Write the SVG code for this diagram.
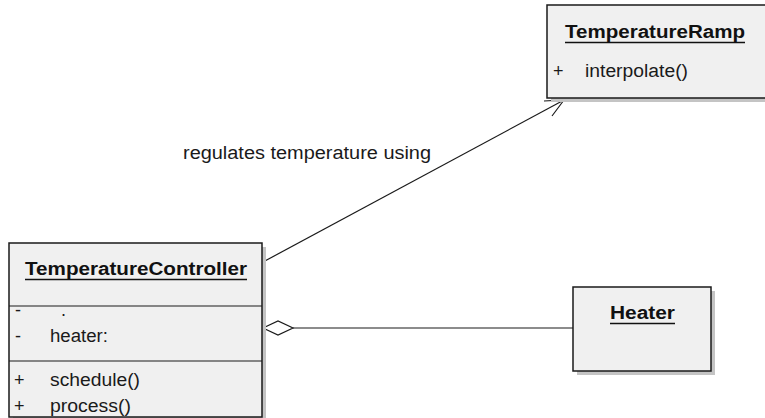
<svg xmlns="http://www.w3.org/2000/svg" width="765" height="418" viewBox="0 0 765 418">
<style>
.shadow{fill:#c4c4c4;stroke:none}
.box{fill:#f0f0f0;stroke:#1a1a1a;stroke-width:1.5}
.div{stroke:#1a1a1a;stroke-width:1.2}
.t{font-family:"Liberation Sans",Arial,sans-serif;font-size:18px;fill:#1a1a1a}
.b{font-family:"Liberation Sans",Arial,sans-serif;font-size:18px;font-weight:bold;fill:#111}
.ul{stroke:#111;stroke-width:1.5}
.ln{stroke:#1a1a1a;stroke-width:1.2;fill:none}
</style>
<rect width="765" height="418" fill="#ffffff"/>
<g id="connectors">
<line class="ln" x1="263" y1="262" x2="564" y2="100"/>
<polyline class="ln" points="544,101 564,100 552,116"/>
<line class="ln" x1="293" y1="328" x2="573" y2="328"/>
<polygon points="263,328 278,321 293,328 278,335" fill="#ffffff" stroke="#1a1a1a" stroke-width="1.2"/>
<text class="t" x="183" y="159" textLength="248" lengthAdjust="spacingAndGlyphs">regulates temperature using</text>
</g>
<g id="TemperatureRamp">
<rect class="shadow" x="551" y="9" width="220" height="93"/>
<rect class="box" x="547" y="5" width="220" height="93"/>
<text class="b" x="565" y="38" textLength="180" lengthAdjust="spacingAndGlyphs">TemperatureRamp</text>
<line class="ul" x1="565" y1="42.5" x2="745" y2="42.5"/>
<text class="t" x="553" y="77">+</text>
<text class="t" x="585" y="77" textLength="103" lengthAdjust="spacingAndGlyphs">interpolate()</text>
</g>
<g id="TemperatureController">
<rect class="shadow" x="13" y="247" width="253" height="174"/>
<rect class="box" x="9" y="243" width="253" height="174"/>
<line class="div" x1="9" y1="306" x2="262" y2="306"/>
<line class="div" x1="9" y1="361" x2="262" y2="361"/>
<text class="b" x="25" y="275" textLength="222" lengthAdjust="spacingAndGlyphs">TemperatureController</text>
<line class="ul" x1="25" y1="279.5" x2="247" y2="279.5"/>
<text class="t" x="15" y="316">-</text>
<text class="t" x="61" y="316">.</text>
<text class="t" x="15" y="342">-</text>
<text class="t" x="50" y="342" textLength="58" lengthAdjust="spacingAndGlyphs">heater:</text>
<text class="t" x="14" y="386">+</text>
<text class="t" x="50" y="386" textLength="90" lengthAdjust="spacingAndGlyphs">schedule()</text>
<text class="t" x="14" y="412">+</text>
<text class="t" x="50" y="412" textLength="81" lengthAdjust="spacingAndGlyphs">process()</text>
</g>
<g id="Heater">
<rect class="shadow" x="577" y="291" width="138" height="84"/>
<rect class="box" x="573" y="287" width="138" height="84"/>
<text class="b" x="610" y="319" textLength="65" lengthAdjust="spacingAndGlyphs">Heater</text>
<line class="ul" x1="610" y1="323.5" x2="675" y2="323.5"/>
</g>
</svg>
